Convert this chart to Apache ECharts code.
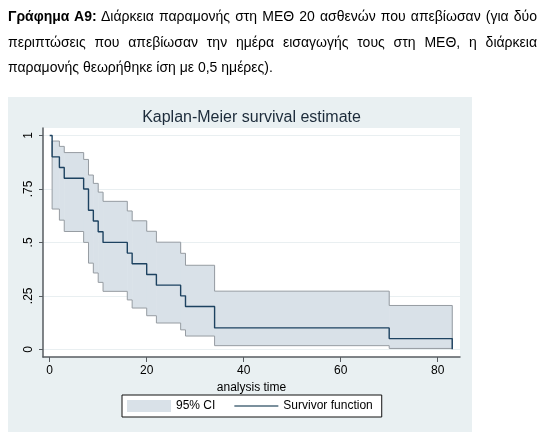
<!DOCTYPE html>
<html>
<head>
<meta charset="utf-8">
<script src="https://cdn.jsdelivr.net/npm/echarts@6/dist/echarts.min.js"></script>
<style>
  body { margin: 0; background: #fff; }
  #caption {
    position: absolute;
    left: 8px;
    top: 4px;
    width: 529px;
    font-family: "Liberation Sans", Arial, sans-serif;
    font-size: 14px;
    line-height: 25.5px;
    color: #000;
    z-index: 2;
  }
  #caption div { text-align: justify; text-align-last: justify; white-space: nowrap; }
  #caption div.last { text-align-last: left; }
  #chartContainer { position: absolute; left: 0; top: 0; width: 551px; height: 446px; }
</style>
</head>
<body>
<div id="chartContainer"></div>
<div id="caption">
  <div><b>Γράφημα Α9:</b> Διάρκεια παραμονής στη ΜΕΘ 20 ασθενών που απεβίωσαν (για δύο</div>
  <div>περιπτώσεις που απεβίωσαν την ημέρα εισαγωγής τους στη ΜΕΘ, η διάρκεια</div>
  <div class="last">παραμονής θεωρήθηκε ίση με 0,5 ημέρες).</div>
</div>
<script>
// Kaplan-Meier survivor function (step drops at each time)
const survTimes = [0, 0.5, 2, 3, 7, 8, 9, 10, 11, 16, 17, 20, 22, 27, 28, 34, 70, 83];
const survValues = [1, 0.9, 0.85, 0.8, 0.75, 0.65, 0.6, 0.55, 0.5, 0.45, 0.4, 0.35, 0.3, 0.25, 0.2, 0.1, 0.05, 0];

// 95% confidence band (last point closes the band at 83)
const ciTimes = [0.5, 2, 3, 7, 8, 9, 10, 11, 16, 17, 20, 22, 27, 28, 34, 70, 83];
const ciUpper = [0.974, 0.949, 0.92, 0.888, 0.815, 0.776, 0.735, 0.692, 0.647, 0.601, 0.552, 0.501, 0.449, 0.393, 0.272, 0.205, 0.205];
const ciLower = [0.656, 0.604, 0.551, 0.5, 0.403, 0.357, 0.313, 0.271, 0.231, 0.193, 0.157, 0.123, 0.091, 0.062, 0.017, 0.004, 0.004];

const xTicks = [0, 20, 40, 60, 80];
const yTicks = [0, 0.25, 0.5, 0.75, 1];

const fontFamily = '"Liberation Sans", Arial, sans-serif';
const bandColor = "#d9e1e8";
const bandEdge = "#969ca2";
const survColor = "#1d4260";
const axisColor = "#575c61";

function pairs(xs, ys) {
  return xs.map((x, i) => [x, ys[i]]);
}

// One rectangle per step of the band: [from, to, lower, upper]
function bandSteps() {
  const steps = [];
  for (let i = 0; i < ciTimes.length - 1; i++) {
    steps.push([ciTimes[i], ciTimes[i + 1], ciLower[i], ciUpper[i]]);
  }
  return steps;
}

function renderBand(params, api) {
  const p0 = api.coord([api.value(0), api.value(3)]);
  const p1 = api.coord([api.value(1), api.value(2)]);
  return {
    type: "rect",
    shape: {
      x: p0[0],
      y: p0[1],
      width: p1[0] - p0[0] + 0.5,
      height: p1[1] - p0[1],
    },
    style: { fill: bandColor },
  };
}

function drawChart() {
  const chart = echarts.init(document.getElementById("chartContainer"));

  const n = ciTimes.length;
  // lower outline also closes the left and right edges of the band
  const lowerOutline = [[ciTimes[0], ciUpper[0]]]
    .concat(pairs(ciTimes, ciLower))
    .concat([[ciTimes[n - 1], ciUpper[n - 1]]]);

  chart.setOption({
    animation: false,
    graphic: [
      {
        type: "rect",
        z: -10,
        shape: { x: 8, y: 97, width: 464, height: 335 },
        style: { fill: "#e9f0f2" },
      },
      {
        type: "text",
        x: 251.5,
        y: 117.5,
        style: {
          text: "Kaplan-Meier survival estimate",
          fontFamily: fontFamily,
          fontSize: 16,
          fill: "#1c2b3a",
          align: "center",
          verticalAlign: "middle",
        },
      },
    ],
    grid: {
      left: 43,
      top: 128,
      right: 91,
      bottom: 89,
      show: true,
      backgroundColor: "#ffffff",
      borderWidth: 0,
    },
    legend: {
      left: 122,
      top: 395,
      padding: [5, 9, 5, 5],
      itemGap: 19,
      itemWidth: 44,
      itemHeight: 12,
      backgroundColor: "#ffffff",
      borderColor: "#111",
      borderWidth: 1,
      borderRadius: 0,
      textStyle: { fontFamily: fontFamily, fontSize: 12, color: "#000" },
      data: [
        { name: "95% CI", icon: "rect", itemStyle: { color: bandColor, borderWidth: 0 } },
        {
          name: "Survivor function",
          icon: "path://M0,0H44V1.4H0Z",
          itemStyle: { color: "#4f6b7d", borderWidth: 0 },
        },
      ],
    },
    xAxis: {
      type: "value",
      min: -1.38,
      max: 84.6,
      name: "analysis time",
      nameLocation: "middle",
      nameGap: 19,
      nameTextStyle: { fontFamily: fontFamily, fontSize: 12, color: "#000" },
      axisLine: { show: true, onZero: false, lineStyle: { color: axisColor, width: 1.5 } },
      axisTick: { show: true, length: 5, customValues: xTicks, lineStyle: { color: axisColor } },
      axisLabel: {
        customValues: xTicks,
        margin: 8,
        fontFamily: fontFamily,
        fontSize: 12,
        color: "#000",
      },
      splitLine: { show: false },
    },
    yAxis: {
      type: "value",
      min: -0.036,
      max: 1.035,
      axisLine: { show: true, onZero: false, lineStyle: { color: axisColor, width: 1.5 } },
      axisTick: { show: true, length: 4, customValues: yTicks, lineStyle: { color: axisColor } },
      axisLabel: {
        customValues: yTicks,
        rotate: 90,
        margin: 8,
        fontFamily: fontFamily,
        fontSize: 12,
        color: "#000",
        formatter: (v) => (v === 0 || v === 1 ? String(v) : String(v).replace(/^0/, "")),
      },
      splitLine: { show: true, lineStyle: { color: "#e9eff1", width: 1 } },
    },
    series: [
      {
        name: "95% CI",
        type: "custom",
        silent: true,
        renderItem: renderBand,
        encode: { x: [0, 1], y: [2, 3] },
        data: bandSteps(),
        z: 1,
      },
      {
        name: "ciUpperLine",
        type: "line",
        step: "end",
        symbol: "none",
        silent: true,
        lineStyle: { color: bandEdge, width: 1 },
        data: pairs(ciTimes, ciUpper),
        z: 2,
      },
      {
        name: "ciLowerLine",
        type: "line",
        step: "end",
        symbol: "none",
        silent: true,
        lineStyle: { color: bandEdge, width: 1 },
        data: lowerOutline,
        z: 2,
      },
      {
        name: "Survivor function",
        type: "line",
        step: "end",
        symbol: "none",
        color: survColor,
        lineStyle: { color: survColor, width: 1.4 },
        data: pairs(survTimes, survValues),
        z: 3,
      },
    ],
  });
}

drawChart();
</script>
</body>
</html>
